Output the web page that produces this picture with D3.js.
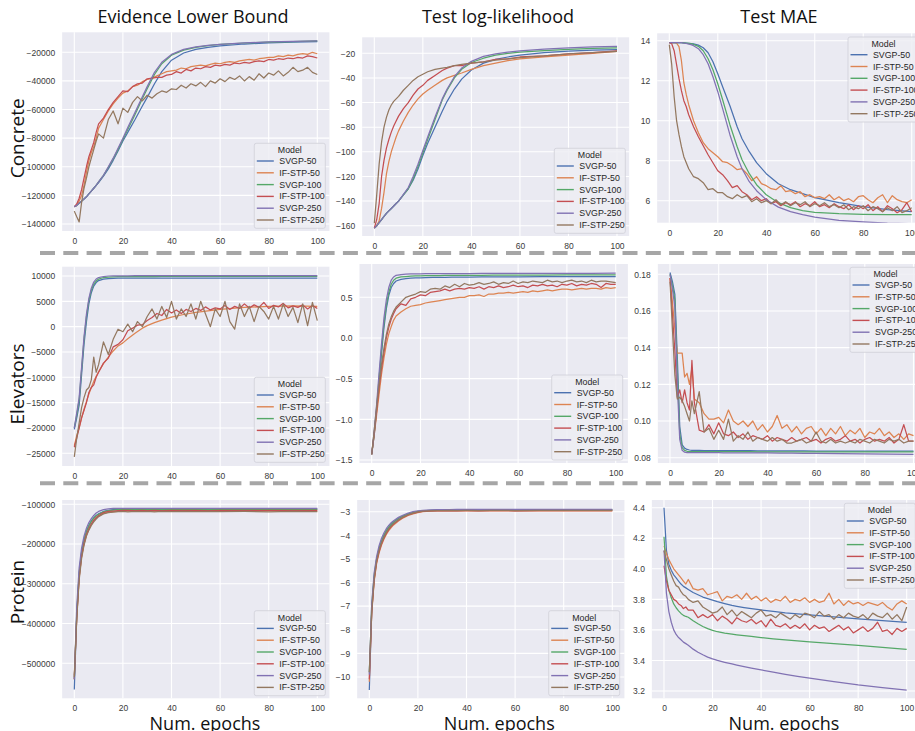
<!DOCTYPE html>
<html>
<head>
<meta charset="utf-8">
<script src="https://cdn.jsdelivr.net/npm/d3@7"></script>
<style>
  body { margin: 0; background: #fff; }
  text { font-family: "Liberation Sans", Arial, sans-serif; }
  .big { font-family: "Open Sans", "Noto Sans", sans-serif; }
</style>
</head>
<body>
<svg width="915" height="731"></svg>
<script>
// x grids: smooth curves are read at fewer epochs, noisy ones at more
var epochsSmooth = [0,1,2,3,4,5,6,7,8,9,10,12,14,16,18,20,22,25,28,30,33,36,40,45,50,55,60,70,80,90,100];
var epochsNoisy = [0,1,2,3,4,5,6,7,8,9,10,12,14,16,18,20,22,24,26,28,30,32,34,36,38,40,42,44,46,48,50,
  52,54,56,58,60,62,64,66,68,70,72,74,76,78,80,82,84,86,88,90,92,94,96,98,100];

var models = ["SVGP-50", "IF-STP-50", "SVGP-100", "IF-STP-100", "SVGP-250", "IF-STP-250"];
var colors = ["#4C72B0", "#DD8452", "#55A868", "#C44E52", "#8172B3", "#937860"];
var colTitles = ["Evidence Lower Bound", "Test log-likelihood", "Test MAE"];
var rowTitles = ["Concrete", "Elevators", "Protein"];
var xTicks = [0, 20, 40, 60, 80, 100];

var ticksConcreteElbo = [-140000, -120000, -100000, -80000, -60000, -40000, -20000];
var ticksConcreteLl = [-160, -140, -120, -100, -80, -60, -40, -20];
var ticksConcreteMae = [6, 8, 10, 12, 14];
var ticksElevElbo = [-25000, -20000, -15000, -10000, -5000, 0, 5000, 10000];
var ticksElevLl = [-1.5, -1.0, -0.5, 0.0, 0.5];
var ticksElevMae = [0.08, 0.10, 0.12, 0.14, 0.16, 0.18];
var ticksProtElbo = [-500000, -400000, -300000, -200000, -100000];
var ticksProtLl = [-10, -9, -8, -7, -6, -5, -4, -3];
var ticksProtMae = [3.2, 3.4, 3.6, 3.8, 4.0, 4.2, 4.4];

// series in model order
var concreteElbo = [
  [-128000,-127000,-125500,-124000,-122500,-121000,-119000,-117000,-115000,-113000,-111000,-106500,-101500,-95500,-89000,-82000,-76000,-67000,-57500,-51500,-42000,-33500,-25500,-20500,-18000,-16500,-15500,-14200,-13400,-12900,-12500],
  [-128000,-127000,-124000,-120000,-113000,-104000,-96000,-90000,-86000,-80000,-73000,-67000,-61000,-56000,-52000,-48500,-47000,-44000,-43000,-40500,-39000,-38000,-36500,-35000,-33500,-33000,-32500,-31000,-31500,-30000,-29500,-29000,-29500,-28500,-27500,-28000,-27000,-26500,-27000,-26000,-25500,-25000,-25500,-24500,-24000,-23500,-23500,-22500,-23000,-22000,-22500,-21500,-21000,-21500,-20000,-21000],
  [-128000,-127000,-125500,-124000,-122500,-121000,-119000,-117000,-115000,-113000,-110500,-106000,-100500,-94500,-88000,-81000,-74000,-63500,-52500,-45500,-35500,-28000,-22000,-18500,-16500,-15300,-14500,-13500,-12900,-12500,-12100],
  [-128000,-126000,-122000,-116000,-108000,-100000,-93000,-88000,-83000,-76000,-70000,-66000,-60000,-55000,-51000,-47000,-47500,-44000,-42000,-41500,-38500,-38000,-37500,-37500,-36000,-35500,-33500,-34500,-32000,-33000,-31000,-31500,-30000,-30500,-29000,-29500,-28500,-29000,-27500,-28000,-27000,-27500,-26500,-26000,-26500,-25000,-25500,-24500,-25000,-24000,-24500,-23500,-24000,-22500,-23000,-24000],
  [-128000,-127000,-125500,-124000,-122500,-121000,-119000,-117000,-115000,-113000,-110500,-106000,-100000,-94000,-87000,-80000,-72500,-62000,-51000,-44000,-34000,-27000,-21500,-18000,-16200,-15100,-14400,-13400,-12800,-12400,-12000],
  [-131000,-135000,-138500,-125000,-115000,-108000,-100000,-94000,-88000,-82000,-77000,-80000,-67000,-61000,-70000,-59000,-62000,-55000,-51000,-54000,-50000,-52000,-49000,-47000,-48000,-45500,-46000,-43000,-45000,-42000,-43500,-41000,-44000,-40000,-41500,-38500,-40500,-37500,-39000,-36500,-40000,-37000,-39500,-35000,-38000,-34500,-36000,-33000,-36500,-34000,-30500,-33500,-32500,-30500,-34000,-35500]
];
var concreteLl = [
  [-162,-160,-157.5,-155,-152.5,-150,-148,-146,-144,-142,-140,-135,-130,-123,-114,-103,-93,-80,-67,-59,-49,-41,-33.5,-28,-25,-23,-21.5,-19.5,-18.3,-17.5,-17],
  [-162,-160,-156,-146,-133,-118,-108,-100,-94,-88,-83,-75,-68,-62,-57,-53,-50,-46,-42,-40,-38,-36,-33,-30,-28,-26,-24.5,-23,-21.5,-20,-18.5],
  [-162,-160,-157.5,-155,-152.5,-150,-148,-146,-144,-142,-140,-135,-130,-122,-112,-101,-90,-74,-58,-50,-40,-33,-27.5,-24,-21.5,-20,-19,-17.8,-16.8,-16,-15.5],
  [-162,-155,-142,-120,-107,-97,-90,-84,-79,-75,-71,-65,-60,-54,-49,-46,-42,-38,-34,-32,-30,-30,-28,-27,-25,-24.5,-23,-22,-20.5,-19.5,-18],
  [-162,-160,-157.5,-155,-152.5,-150,-148,-146,-144,-142,-140,-134.5,-129,-120,-110,-99,-88,-72,-57,-49,-39,-32,-26.5,-22.5,-20.5,-19,-18,-16.7,-15.6,-14.8,-14.3],
  [-158,-135,-110,-92,-80,-72,-66,-62,-59,-57,-55,-50,-46,-42,-39,-37,-35,-33,-32,-31.5,-30,-29,-28,-27,-25.5,-24.5,-23.5,-22,-20.5,-19.5,-18.5]
];
var concreteMae = [
  [13.9,13.9,13.9,13.9,13.9,13.9,13.89,13.88,13.87,13.86,13.84,13.78,13.65,13.4,12.95,12.35,11.7,10.75,9.7,9.1,8.45,7.9,7.35,6.85,6.55,6.35,6.15,5.9,5.7,5.55,5.45],
  [13.9,13.9,13.9,13.88,13.7,13.0,11.9,11.3,10.8,10.4,10.0,9.4,8.9,8.6,8.4,8.2,7.95,7.9,7.75,7.55,7.6,7.35,7.0,7.2,6.85,6.75,6.6,6.55,6.75,6.45,6.5,6.35,6.45,6.2,6.3,6.15,6.2,6.1,6.3,6.05,6.2,6.0,6.1,5.95,6.2,6.25,6.05,5.9,6.15,6.3,5.9,6.25,6.05,5.95,5.9,6.05],
  [13.9,13.9,13.9,13.9,13.9,13.9,13.89,13.88,13.87,13.85,13.82,13.72,13.5,13.1,12.55,11.85,11.05,9.8,8.7,8.05,7.35,6.8,6.3,5.9,5.65,5.5,5.42,5.35,5.32,5.3,5.3],
  [13.9,13.85,13.5,12.8,12.1,11.5,11.0,10.7,10.3,10.0,9.7,9.2,8.75,8.3,7.9,7.5,7.3,7.0,6.65,6.75,6.45,6.3,6.05,6.2,6.0,6.1,5.85,5.95,5.75,5.9,5.8,5.95,5.7,5.85,5.75,5.95,5.7,5.8,5.65,5.85,5.7,5.6,5.8,5.55,5.75,5.6,5.8,5.5,5.7,5.45,5.75,5.6,5.4,5.55,5.9,5.45],
  [13.9,13.9,13.9,13.9,13.9,13.9,13.88,13.86,13.83,13.8,13.75,13.6,13.3,12.85,12.2,11.45,10.6,9.3,8.2,7.6,6.95,6.5,6.05,5.68,5.45,5.3,5.18,5.02,4.94,4.88,4.85],
  [13.8,12.8,11.2,10.0,9.3,8.7,8.2,7.9,7.6,7.4,7.2,7.1,6.9,6.55,6.6,6.4,6.4,6.2,6.1,6.3,6.15,6.25,5.95,6.1,5.9,6.0,5.85,6.05,5.8,5.95,5.75,5.9,5.8,5.95,5.7,5.85,5.75,5.9,5.7,5.8,5.65,5.8,5.55,5.7,5.6,5.75,5.5,5.7,5.6,5.45,5.65,5.5,5.7,5.4,5.5,5.65]
];
var elevElbo = [
  [-20300,-18000,-15500,-9500,-3500,1000,4500,6700,8000,8700,9100,9400,9500,9550,9600,9600,9600,9600,9600,9600,9600,9600,9600,9600,9600,9600,9600,9600,9600,9600,9600],
  [-23500,-21500,-20000,-18000,-16300,-14800,-13300,-12000,-10800,-9800,-8900,-7300,-6000,-4800,-3800,-3200,-2400,-1300,-300,200,800,1300,1900,2400,2800,3100,3400,3800,4000,4100,4000],
  [-20000,-17500,-14500,-8500,-2500,2000,5200,7200,8400,9000,9400,9700,9800,9850,9900,9900,9900,9900,9900,9900,9900,9920,9920,9930,9930,9940,9940,9950,9950,9950,9950],
  [-23800,-22000,-20000,-18000,-16500,-15000,-13000,-12000,-11500,-10000,-9000,-7200,-6200,-4000,-3500,-2600,-800,-300,300,400,1200,1800,2600,2200,3400,2700,3300,2600,3400,3000,3600,3200,3900,3300,3700,3500,4200,3400,4000,3600,4500,3700,4300,3800,4800,3600,4200,3900,4600,3700,4100,3800,4300,3500,4200,3600],
  [-20000,-17000,-14000,-8000,-2000,2500,5600,7600,8800,9400,9700,9900,10000,10020,10030,10040,10040,10050,10050,10050,10050,10050,10050,10050,10050,10050,10050,10050,10050,10050,10050],
  [-25700,-22000,-19000,-16000,-14000,-12500,-12000,-10500,-6000,-9000,-7500,-3000,-5500,-2500,-500,-1000,500,-1000,1000,0,2000,3500,1500,4000,1800,5000,1500,3500,2000,4500,1500,5000,2500,0,3500,2000,5000,1000,-500,4500,2000,4000,1000,4000,3000,1500,4000,1500,4500,2000,3800,800,4500,200,4800,1200]
];
var elevLl = [
  [-1.43,-1.2,-0.9,-0.55,-0.2,0.12,0.36,0.52,0.62,0.67,0.7,0.72,0.73,0.735,0.74,0.74,0.742,0.744,0.745,0.746,0.747,0.748,0.749,0.75,0.75,0.751,0.752,0.753,0.754,0.755,0.755],
  [-1.43,-1.2,-0.95,-0.7,-0.45,-0.25,-0.08,0.05,0.14,0.22,0.27,0.32,0.36,0.39,0.4,0.41,0.43,0.44,0.45,0.46,0.47,0.48,0.49,0.5,0.5,0.52,0.52,0.53,0.51,0.54,0.54,0.55,0.55,0.56,0.55,0.56,0.57,0.56,0.58,0.57,0.58,0.59,0.58,0.59,0.6,0.6,0.59,0.6,0.61,0.6,0.61,0.61,0.6,0.62,0.61,0.62],
  [-1.43,-1.18,-0.87,-0.5,-0.15,0.17,0.4,0.56,0.66,0.71,0.735,0.75,0.755,0.76,0.762,0.764,0.765,0.766,0.767,0.768,0.769,0.77,0.77,0.771,0.772,0.772,0.773,0.774,0.775,0.775,0.775],
  [-1.43,-1.18,-0.9,-0.62,-0.38,-0.18,0.0,0.13,0.23,0.3,0.36,0.42,0.4,0.48,0.5,0.53,0.52,0.56,0.57,0.58,0.6,0.58,0.6,0.61,0.6,0.62,0.61,0.63,0.6,0.63,0.62,0.64,0.62,0.63,0.65,0.63,0.64,0.62,0.65,0.64,0.66,0.64,0.65,0.63,0.66,0.65,0.67,0.64,0.66,0.65,0.67,0.66,0.62,0.67,0.66,0.66],
  [-1.43,-1.15,-0.82,-0.44,-0.08,0.24,0.47,0.62,0.71,0.75,0.77,0.78,0.785,0.787,0.788,0.789,0.79,0.79,0.79,0.791,0.791,0.792,0.792,0.793,0.793,0.794,0.794,0.795,0.795,0.795,0.796],
  [-1.43,-1.15,-0.85,-0.58,-0.33,-0.13,0.04,0.17,0.26,0.33,0.38,0.44,0.5,0.52,0.54,0.57,0.56,0.6,0.61,0.6,0.64,0.62,0.66,0.63,0.67,0.65,0.66,0.68,0.66,0.67,0.69,0.66,0.68,0.67,0.7,0.67,0.69,0.68,0.7,0.69,0.68,0.71,0.69,0.7,0.68,0.7,0.71,0.69,0.7,0.68,0.71,0.69,0.7,0.7,0.69,0.68]
];
var elevMae = [
  [0.181,0.176,0.169,0.135,0.097,0.087,0.0852,0.0845,0.0842,0.084,0.084,0.084,0.0839,0.0839,0.0839,0.0839,0.0838,0.0838,0.0838,0.0838,0.0838,0.0837,0.0837,0.0837,0.0837,0.0837,0.0836,0.0836,0.0836,0.0836,0.0836],
  [0.178,0.165,0.15,0.137,0.137,0.137,0.124,0.126,0.12,0.129,0.112,0.11,0.104,0.101,0.101,0.102,0.099,0.106,0.1,0.098,0.1,0.097,0.1,0.095,0.098,0.094,0.097,0.103,0.096,0.098,0.094,0.097,0.093,0.096,0.097,0.093,0.096,0.092,0.096,0.093,0.097,0.092,0.095,0.093,0.096,0.091,0.094,0.093,0.096,0.092,0.094,0.091,0.093,0.09,0.093,0.092],
  [0.18,0.174,0.166,0.128,0.093,0.0855,0.084,0.0835,0.0833,0.0833,0.0833,0.0833,0.0833,0.0833,0.0833,0.0833,0.0833,0.0833,0.0833,0.0833,0.0833,0.0832,0.0832,0.0832,0.0832,0.0832,0.0832,0.0832,0.0832,0.0832,0.0832],
  [0.178,0.158,0.138,0.113,0.117,0.11,0.117,0.11,0.106,0.133,0.11,0.095,0.094,0.098,0.093,0.099,0.093,0.092,0.094,0.091,0.093,0.09,0.092,0.091,0.09,0.092,0.089,0.091,0.09,0.089,0.091,0.089,0.09,0.091,0.089,0.09,0.088,0.09,0.091,0.089,0.09,0.092,0.089,0.09,0.088,0.09,0.091,0.089,0.09,0.089,0.091,0.088,0.09,0.098,0.089,0.089],
  [0.18,0.172,0.162,0.12,0.09,0.084,0.083,0.0828,0.0827,0.0827,0.0827,0.0827,0.0827,0.0827,0.0827,0.0827,0.0826,0.0826,0.0826,0.0826,0.0826,0.0826,0.0826,0.0825,0.0825,0.0824,0.0824,0.0822,0.0821,0.0819,0.0818],
  [0.176,0.15,0.125,0.112,0.113,0.111,0.108,0.104,0.1,0.111,0.104,0.116,0.094,0.096,0.09,0.095,0.09,0.101,0.089,0.092,0.09,0.094,0.089,0.091,0.09,0.089,0.091,0.089,0.09,0.088,0.088,0.089,0.09,0.088,0.089,0.094,0.089,0.088,0.09,0.088,0.089,0.088,0.089,0.088,0.09,0.089,0.088,0.09,0.089,0.088,0.09,0.089,0.09,0.088,0.089,0.089]
];
var protElbo = [
  [-566000,-380000,-275000,-222000,-190000,-168000,-153000,-142000,-134000,-128000,-124000,-118000,-115000,-113500,-112500,-112000,-112000,-112000,-112000,-112000,-112000,-112000,-112000,-112000,-112000,-112000,-112000,-112000,-112000,-112000,-112000],
  [-530000,-385000,-285000,-232000,-200000,-178000,-163000,-151000,-142000,-135000,-130000,-123000,-120000,-118500,-117500,-117000,-116500,-117500,-116800,-117200,-116600,-117400,-116900,-117300,-116700,-117500,-116800,-117100,-116600,-117300,-116900],
  [-540000,-375000,-272000,-220000,-189000,-168000,-154000,-143000,-135000,-129000,-125000,-119000,-116000,-114500,-113500,-113000,-113000,-113000,-113000,-113000,-113000,-113000,-113000,-113000,-113000,-113000,-113000,-113000,-113000,-113000,-113000],
  [-540000,-385000,-283000,-230000,-198000,-176000,-161000,-149000,-140000,-133000,-128000,-121000,-118000,-117000,-116000,-115500,-115200,-115800,-115300,-115600,-115100,-115700,-115200,-115500,-115000,-115600,-115300,-115400,-115100,-115500,-115200],
  [-540000,-360000,-260000,-210000,-180000,-160000,-146000,-136000,-128000,-122000,-118000,-113500,-111500,-110500,-110000,-110000,-110000,-110000,-110000,-110000,-110000,-110000,-110000,-110000,-110000,-110000,-110000,-110000,-110000,-110000,-110000],
  [-535000,-390000,-290000,-236000,-203000,-180000,-165000,-153000,-144000,-137000,-131000,-124000,-121000,-119500,-118500,-118000,-118800,-117600,-118500,-117800,-118900,-117700,-118600,-117900,-118700,-117500,-118400,-118000,-118800,-117700,-118300]
];
var protLl = [
  [-10.55,-7.2,-5.8,-5.05,-4.6,-4.27,-4.02,-3.82,-3.66,-3.54,-3.44,-3.29,-3.18,-3.1,-3.04,-3.0,-2.97,-2.95,-2.94,-2.935,-2.93,-2.93,-2.93,-2.93,-2.925,-2.925,-2.925,-2.92,-2.92,-2.92,-2.92],
  [-10.2,-7.3,-5.95,-5.2,-4.75,-4.42,-4.17,-3.96,-3.8,-3.67,-3.56,-3.39,-3.26,-3.16,-3.09,-3.04,-3.0,-2.98,-2.97,-2.97,-2.965,-2.97,-2.965,-2.97,-2.965,-2.965,-2.97,-2.965,-2.965,-2.96,-2.965],
  [-9.8,-7.0,-5.7,-5.0,-4.56,-4.24,-4.0,-3.8,-3.65,-3.53,-3.43,-3.28,-3.17,-3.09,-3.03,-2.99,-2.965,-2.945,-2.935,-2.93,-2.925,-2.925,-2.925,-2.92,-2.92,-2.92,-2.92,-2.915,-2.915,-2.915,-2.915],
  [-10.1,-7.25,-5.9,-5.15,-4.7,-4.37,-4.12,-3.92,-3.76,-3.63,-3.52,-3.36,-3.23,-3.14,-3.07,-3.02,-2.99,-2.97,-2.96,-2.96,-2.955,-2.96,-2.955,-2.96,-2.955,-2.955,-2.96,-2.955,-2.955,-2.95,-2.955],
  [-9.9,-6.9,-5.6,-4.9,-4.45,-4.13,-3.9,-3.72,-3.58,-3.47,-3.38,-3.24,-3.14,-3.06,-3.0,-2.96,-2.94,-2.92,-2.915,-2.91,-2.91,-2.905,-2.905,-2.905,-2.9,-2.9,-2.9,-2.9,-2.9,-2.9,-2.9],
  [-9.8,-7.2,-5.85,-5.1,-4.65,-4.33,-4.08,-3.88,-3.72,-3.6,-3.5,-3.34,-3.22,-3.13,-3.06,-3.01,-2.98,-2.96,-2.95,-2.95,-2.945,-2.95,-2.945,-2.95,-2.945,-2.945,-2.95,-2.945,-2.945,-2.94,-2.945]
];
var protMae = [
  [4.4,4.12,4.03,3.99,3.96,3.94,3.92,3.9,3.885,3.875,3.865,3.845,3.83,3.815,3.805,3.795,3.785,3.772,3.76,3.754,3.746,3.739,3.731,3.721,3.712,3.705,3.698,3.685,3.672,3.66,3.65],
  [4.15,4.1,4.06,4.03,4.0,3.98,3.96,3.94,3.92,3.9,3.93,3.87,3.86,3.87,3.83,3.84,3.85,3.79,3.82,3.81,3.83,3.8,3.84,3.8,3.82,3.79,3.81,3.78,3.8,3.79,3.82,3.78,3.8,3.79,3.81,3.78,3.8,3.78,3.79,3.84,3.77,3.8,3.76,3.79,3.77,3.78,3.76,3.78,3.77,3.76,3.78,3.75,3.73,3.77,3.79,3.77],
  [4.21,3.95,3.86,3.81,3.77,3.745,3.725,3.708,3.695,3.688,3.683,3.66,3.64,3.622,3.608,3.597,3.588,3.579,3.572,3.568,3.563,3.557,3.55,3.542,3.535,3.528,3.522,3.51,3.498,3.485,3.472],
  [4.02,3.92,3.86,3.83,3.8,3.79,3.77,3.76,3.74,3.75,3.73,3.73,3.68,3.7,3.68,3.7,3.66,3.69,3.67,3.64,3.68,3.66,3.65,3.67,3.64,3.66,3.62,3.67,3.63,3.62,3.64,3.61,3.63,3.61,3.64,3.6,3.63,3.61,3.62,3.59,3.61,3.63,3.6,3.62,3.58,3.6,3.62,3.59,3.61,3.65,3.59,3.6,3.57,3.61,3.59,3.61],
  [4.12,3.84,3.72,3.65,3.6,3.57,3.55,3.535,3.52,3.51,3.5,3.474,3.454,3.437,3.422,3.41,3.4,3.388,3.377,3.37,3.36,3.35,3.338,3.323,3.309,3.296,3.284,3.262,3.24,3.222,3.205],
  [4.12,4.06,4.0,3.96,3.92,3.89,3.88,3.85,3.83,3.82,3.8,3.78,3.79,3.75,3.73,3.71,3.72,3.75,3.7,3.73,3.69,3.72,3.7,3.68,3.71,3.73,3.69,3.7,3.68,3.71,3.69,3.67,3.7,3.68,3.71,3.7,3.68,3.72,3.69,3.7,3.67,3.7,3.68,3.71,3.69,3.68,3.7,3.67,3.71,3.69,3.68,3.71,3.67,3.7,3.66,3.75]
];

// placement of each panel: pixel spots of x=0 and x=100, two y anchors, plot top/bottom, legend corner
var panels = [
  {data: concreteElbo, ticks: ticksConcreteElbo, fmt: "d", x: [74.3, 317.3], y: [[-20000, 52.3], [-140000, 224]], top: 32.3, bottom: 231, legend: [254.3, 143.3]},
  {data: concreteLl, ticks: ticksConcreteLl, fmt: "d", x: [374.3, 617], y: [[-20, 53.3], [-160, 225.7]], top: 37.3, bottom: 236, legend: [554.3, 148.3]},
  {data: concreteMae, ticks: ticksConcreteMae, fmt: "d", x: [669.3, 911.7], y: [[14, 40.7], [6, 200.7]], top: 33.3, bottom: 222.7, legend: [848, 37]},
  {data: elevElbo, ticks: ticksElevElbo, fmt: "d", x: [74.3, 317.3], y: [[10000, 276], [-25000, 453.3]], top: 266.7, bottom: 466, legend: [254.3, 377.3]},
  {data: elevLl, ticks: ticksElevLl, fmt: ".1f", x: [371.7, 615.7], y: [[0.5, 297.3], [-1.5, 460]], top: 264, bottom: 463, legend: [551.7, 375]},
  {data: elevMae, ticks: ticksElevMae, fmt: ".2f", x: [670, 913.5], y: [[0.18, 274.3], [0.08, 457.7]], top: 264, bottom: 463, legend: [850, 267.3]},
  {data: protElbo, ticks: ticksProtElbo, fmt: "d", x: [74.3, 317.3], y: [[-100000, 504.3], [-500000, 663.3]], top: 500, bottom: 698.3, legend: [254.3, 610.7]},
  {data: protLl, ticks: ticksProtLl, fmt: "d", x: [369.3, 612.3], y: [[-3, 511.7], [-10, 677]], top: 500, bottom: 698.3, legend: [548.7, 610.7]},
  {data: protMae, ticks: ticksProtMae, fmt: ".1f", x: [664, 906.7], y: [[4.4, 507.7], [3.2, 691]], top: 500, bottom: 698.3, legend: [844.3, 503.3]}
];

var svg = d3.select("svg");

panels.forEach(function(p, i) {
  var x = d3.scaleLinear().domain([0, 100]).range(p.x),
      y = d3.scaleLinear().domain([p.y[0][0], p.y[1][0]]).range([p.y[0][1], p.y[1][1]]);
  var left = x(-5), right = x(105);
  var g = svg.append("g");

  g.append("clipPath").attr("id", "clip" + i)
    .append("rect")
      .attr("x", left).attr("y", p.top)
      .attr("width", right - left).attr("height", p.bottom - p.top);

  g.append("rect")
    .attr("x", left).attr("y", p.top)
    .attr("width", right - left).attr("height", p.bottom - p.top)
    .attr("fill", "#EAEAF2");

  // white grid
  g.selectAll(".vgrid").data(xTicks).enter().append("line")
    .attr("x1", x).attr("x2", x)
    .attr("y1", p.top).attr("y2", p.bottom)
    .attr("stroke", "#fff").attr("stroke-width", 1.1);
  g.selectAll(".hgrid").data(p.ticks).enter().append("line")
    .attr("x1", left).attr("x2", right)
    .attr("y1", y).attr("y2", y)
    .attr("stroke", "#fff").attr("stroke-width", 1.1);

  var yAxis = g.append("g")
    .attr("transform", "translate(" + left + ",0)")
    .call(d3.axisLeft(y).tickValues(p.ticks).tickSize(0).tickPadding(7).tickFormat(d3.format(p.fmt)));
  var xAxis = g.append("g")
    .attr("transform", "translate(0," + p.bottom + ")")
    .call(d3.axisBottom(x).tickValues(xTicks).tickSize(0).tickPadding(7).tickFormat(d3.format("d")));
  [yAxis, xAxis].forEach(function(a) {
    a.select(".domain").remove();
    a.selectAll("text").attr("font-size", 8.5).attr("fill", "#3a3a3a")
      .attr("font-family", "'Liberation Sans', Arial, sans-serif");
  });

  var line = d3.line()
    .x(function(d) { return x(d[0]); })
    .y(function(d) { return y(d[1]); });

  g.append("g").attr("clip-path", "url(#clip" + i + ")")
    .selectAll("path")
    .data(p.data)
    .enter().append("path")
      .attr("d", function(vals) {
        var ep = vals.length === epochsNoisy.length ? epochsNoisy : epochsSmooth;
        if (vals.length !== ep.length) throw new Error("length mismatch in panel " + i);
        return line(vals.map(function(v, k) { return [ep[k], v]; }));
      })
      .attr("fill", "none")
      .attr("stroke", function(d, k) { return colors[k]; })
      .attr("stroke-width", 1.25)
      .attr("stroke-linejoin", "round");

  // legend
  var lg = g.append("g").attr("transform", "translate(" + p.legend[0] + "," + p.legend[1] + ")");
  lg.append("rect")
    .attr("width", 71).attr("height", 85).attr("rx", 2)
    .attr("fill", "#EDEDF3").attr("fill-opacity", 0.85)
    .attr("stroke", "#cfcfd8").attr("stroke-width", 0.8);
  lg.append("text")
    .attr("x", 35.5).attr("y", 6.8).attr("dy", "0.35em")
    .attr("text-anchor", "middle").attr("font-size", 8.8).attr("fill", "#262626")
    .text("Model");
  var item = lg.selectAll(".item").data(models).enter().append("g")
    .attr("transform", function(d, k) { return "translate(0," + (17.7 + k * 11.8) + ")"; });
  item.append("line")
    .attr("x1", 2.5).attr("x2", 19.5)
    .attr("stroke", function(d, k) { return colors[k]; })
    .attr("stroke-width", 1.4);
  item.append("text")
    .attr("x", 25).attr("dy", "0.35em")
    .attr("font-size", 8.8).attr("fill", "#262626")
    .text(function(d) { return d; });
});

// separators between the dataset rows
svg.selectAll(".sep").data([253, 483.3]).enter().append("line")
  .attr("x1", 40).attr("x2", 915)
  .attr("y1", function(d) { return d; }).attr("y2", function(d) { return d; })
  .attr("stroke", "#a6a6a6").attr("stroke-width", 4)
  .attr("stroke-dasharray", "15 8.3");

// column titles, row labels, x labels
var colCenters = [193, 498, 779];
svg.selectAll(".coltitle").data(colTitles).enter().append("text")
  .attr("class", "big")
  .attr("x", function(d, k) { return colCenters[k]; }).attr("y", 22.5)
  .attr("text-anchor", "middle").attr("font-size", 18).attr("fill", "#111")
  .text(function(d) { return d; });

var rowCenters = [138.3, 384, 592];
svg.selectAll(".rowtitle").data(rowTitles).enter().append("text")
  .attr("class", "big")
  .attr("transform", function(d, k) { return "translate(17," + rowCenters[k] + ") rotate(-90)"; })
  .attr("text-anchor", "middle").attr("dy", "0.35em")
  .attr("font-size", 19).attr("fill", "#111")
  .text(function(d) { return d; });

var xLabelCenters = [205, 499.3, 784];
svg.selectAll(".xlabel").data(xLabelCenters).enter().append("text")
  .attr("class", "big")
  .attr("x", function(d) { return d; }).attr("y", 729.5)
  .attr("text-anchor", "middle").attr("font-size", 18).attr("fill", "#111")
  .text("Num. epochs");
</script>
</body>
</html>
